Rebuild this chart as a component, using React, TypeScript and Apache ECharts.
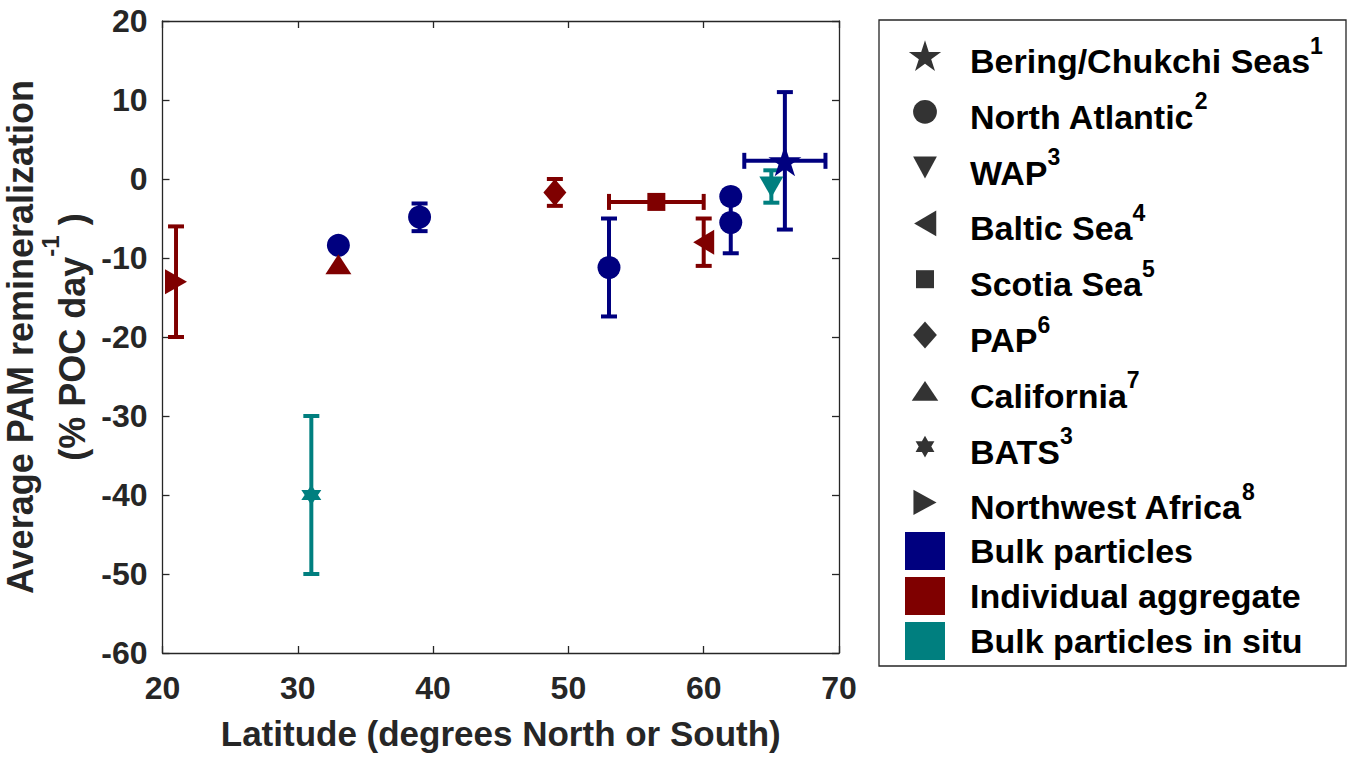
import React, { useEffect, useRef } from "react";
import * as echarts from "echarts";

// ---------- data ----------
const sites = [
  "Bering/Chukchi Seas",
  "North Atlantic",
  "WAP",
  "Baltic Sea",
  "Scotia Sea",
  "PAP",
  "California",
  "BATS",
  "Northwest Africa",
];
const siteRefs = ["1", "2", "3", "4", "5", "6", "7", "3", "8"];
const groups = ["Bulk particles", "Individual aggregate", "Bulk particles in situ"];

const pointLat = [21, 33, 33, 39, 31, 49, 53, 56.5, 60, 62, 62, 65, 66];
const pointValue = [-13, -10.8, -8.4, -4.8, -40, -1.7, -11.2, -2.9, -8, -2.2, -5.5, -1, 2.3];
const pointSite = [8, 6, 1, 1, 7, 5, 1, 4, 3, 1, 1, 2, 0];
const pointGroup = [1, 1, 0, 0, 2, 1, 0, 1, 1, 0, 0, 2, 0];
const yErrLow = [-20, null, null, -6.6, -50, -3.4, -17.4, null, -11, null, -9.4, -3, -6.4];
const yErrHigh = [-6, null, null, -3.1, -30, 0, -5, null, -5, null, -1.6, 1.1, 11];
const xErrLow = [null, null, null, null, null, null, null, 53, null, null, null, null, 63];
const xErrHigh = [null, null, null, null, null, null, null, 60, null, null, null, null, 69];

const xMin = 20;
const xMax = 70;
const xStep = 10;
const yMin = -60;
const yMax = 20;
const yStep = 10;

const xTitle = "Latitude (degrees North or South)";
const yTitle1 = "Average PAM remineralization";
const yTitle2 = "(% POC day";
const yTitleSup = "-1";

// ---------- styles ----------
const groupColors = ["#00007f", "#7f0000", "#007f7f"];
const AXIS = "#262626";
const FONT = "'Liberation Sans', Arial, Helvetica, sans-serif";

const STAR = "path://M50 0 L61.23 34.55 L97.55 34.55 L68.17 55.9 L79.39 90.45 L50 69.1 L20.61 90.45 L31.83 55.9 L2.45 34.55 L38.77 34.55 Z";
const HEX = "path://M50 0 L64.43 25 L93.3 25 L78.87 50 L93.3 75 L64.43 75 L50 100 L35.57 75 L6.7 75 L21.13 50 L6.7 25 L35.57 25 Z";
const DOWN = "path://M0 0 L100 0 L50 100 Z";
const LEFT = "path://M0 50 L100 0 L100 100 Z";
const RIGHT = "path://M0 0 L100 50 L0 100 Z";

const siteSymbol = [STAR, "circle", DOWN, LEFT, "rect", "diamond", "triangle", HEX, RIGHT];
const siteSize: any[] = [[33, 31], 23, [24, 21], [21, 25], 18, [23, 27], [26, 20], [20, 20], [22, 25]];

const PAD = "M0 0 L0 0 M100 100 L100 100 ";
const legendIcons = [
  "path://" + PAD + "M50 4 L61.2 38.5 L97.5 38.5 L68.2 59.9 L79.4 94.4 L50 73.1 L20.6 94.4 L31.8 59.9 L2.5 38.5 L38.8 38.5 Z",
  "path://" + PAD + "M15 50 A35 35 0 1 1 85 50 A35 35 0 1 1 15 50 Z",
  "path://" + PAD + "M15 17 L85 17 L50 82 Z",
  "path://" + PAD + "M18 50 L83 12 L83 88 Z",
  "path://" + PAD + "M23.5 23.5 L76.5 23.5 L76.5 76.5 L23.5 76.5 Z",
  "path://" + PAD + "M50 10 L85 50 L50 90 L15 50 Z",
  "path://" + PAD + "M50 21 L89 79 L11 79 Z",
  "path://" + PAD + "M50 18 L59.2 34 L77.7 34 L68.5 50 L77.7 66 L59.2 66 L50 82 L40.8 66 L22.3 66 L31.5 50 L22.3 34 L40.8 34 Z",
  "path://" + PAD + "M16 13 L84 50 L16 87 Z",
];

const GRID = { left: 162.5, right: 511, top: 21, bottom: 106 };

export default function App() {
  const ref = useRef<HTMLDivElement>(null);

  useEffect(() => {
    document.body.style.margin = "0";
    if (!ref.current) return;
    const chart = echarts.init(ref.current, null, { renderer: "svg" });

    const richLegend = {
      n: { fontSize: 34, fontWeight: "bold", fontFamily: FONT, color: "#000", lineHeight: 44, verticalAlign: "bottom" },
      s: { fontSize: 23, fontWeight: "bold", fontFamily: FONT, color: "#000", lineHeight: 23, verticalAlign: "top" },
      sp1: { width: 23, fontSize: 10, lineHeight: 10 },
    };
    const richLegend2 = {
      n: { fontSize: 34, fontWeight: "bold", fontFamily: FONT, color: "#000", lineHeight: 38 },
      sp2: { width: 20, fontSize: 10, lineHeight: 10 },
    };

    const errorData = pointLat.map((x, i) => [x, pointValue[i]]);

    const markerSeries = groups.map((g, gi) => ({
      type: "scatter",
      name: g,
      color: groupColors[gi],
      z: 3,
      itemStyle: { color: groupColors[gi], opacity: 1 },
      emphasis: { disabled: true },
      data: pointLat
        .map((_, i) => i)
        .filter((i) => pointGroup[i] === gi)
        .map((i) => ({
          value: [pointLat[i], pointValue[i]],
          symbol: siteSymbol[pointSite[i]],
          symbolSize: siteSize[pointSite[i]],
        })),
    }));
    // draw individual aggregates last
    const orderedMarkers = [markerSeries[0], markerSeries[2], markerSeries[1]];

    const siteSeries = sites.map((s) => ({
      type: "scatter",
      name: s,
      color: "#000",
      itemStyle: { color: "#000" },
      data: [],
    }));

    const axisCommon = {
      axisLine: { show: true, onZero: false, lineStyle: { color: AXIS, width: 1.3 } },
      axisTick: { show: true, inside: true, length: 7, lineStyle: { color: AXIS, width: 1.3 } },
      splitLine: { show: false },
    };

    const option: any = {
      animation: false,
      backgroundColor: "#fff",
      grid: { ...GRID, containLabel: false, outerBoundsMode: "none" },
      xAxis: [
        {
          type: "value",
          min: xMin,
          max: xMax,
          interval: xStep,
          position: "bottom",
          ...axisCommon,
          axisLabel: { color: AXIS, fontSize: 32, fontWeight: "bold", fontFamily: FONT, margin: 19 },
          name: xTitle,
          nameLocation: "middle",
          nameGap: 63,
          nameTextStyle: { color: AXIS, fontSize: 35, fontWeight: "bold", fontFamily: FONT },
        },
        {
          type: "value",
          min: xMin,
          max: xMax,
          interval: xStep,
          position: "top",
          ...axisCommon,
          axisLabel: { show: false },
        },
      ],
      yAxis: [
        {
          type: "value",
          min: yMin,
          max: yMax,
          interval: yStep,
          position: "left",
          ...axisCommon,
          axisLabel: { color: AXIS, fontSize: 32, fontWeight: "bold", fontFamily: FONT, margin: 15 },
          name: `{n1|${yTitle1}}\n{n2|${yTitle2}}{s|${yTitleSup}}{n2| )}`,
          nameLocation: "middle",
          nameRotate: 90,
          nameGap: 71.5,
          nameTextStyle: {
            align: "center",
            rich: {
              n1: { fontSize: 36, fontWeight: "bold", fontFamily: FONT, color: AXIS, lineHeight: 36 },
              n2: { fontSize: 36, fontWeight: "bold", fontFamily: FONT, color: AXIS, lineHeight: 52, verticalAlign: "bottom" },
              s: { fontSize: 24, fontWeight: "bold", fontFamily: FONT, color: AXIS, lineHeight: 24, verticalAlign: "top" },
            },
          },
        },
        {
          type: "value",
          min: yMin,
          max: yMax,
          interval: yStep,
          position: "right",
          ...axisCommon,
          axisLabel: { show: false },
        },
      ],
      legend: [
        {
          orient: "vertical",
          left: 908,
          top: 34,
          padding: 0,
          itemGap: 11.8,
          itemWidth: 34,
          itemHeight: 34,
          selectedMode: false,
          data: sites.map((s, i) => ({ name: s, icon: legendIcons[i] })),
          formatter: (name: string) => `{sp1| }{n|${name}}{s|${siteRefs[sites.indexOf(name)]}}`,
          textStyle: { rich: richLegend },
        },
        {
          orient: "vertical",
          left: 905,
          top: 532,
          padding: 0,
          itemGap: 7,
          itemWidth: 40,
          itemHeight: 38,
          selectedMode: false,
          data: groups.map((g) => ({ name: g, icon: "rect" })),
          formatter: (name: string) => `{sp2| }{n|${name}}`,
          textStyle: { rich: richLegend2 },
        },
      ],
      graphic: [
        {
          type: "rect",
          z: -10,
          shape: { x: 879, y: 20, width: 467, height: 646 },
          style: { fill: "none", stroke: AXIS, lineWidth: 1.3 },
          silent: true,
        },
      ],
      series: [
        {
          type: "custom",
          name: "errorbars",
          z: 2,
          silent: true,
          encode: { x: 0, y: 1 },
          data: errorData,
          renderItem: (params: any, api: any) => {
            const i = params.dataIndex;
            const style = { stroke: groupColors[pointGroup[i]], lineWidth: 4, fill: "none" };
            const cap = 8;
            const children: any[] = [];
            const lo = yErrLow[i];
            const hi = yErrHigh[i];
            if (lo != null && hi != null) {
              const a = api.coord([pointLat[i], lo]);
              const b = api.coord([pointLat[i], hi]);
              children.push({ type: "line", shape: { x1: a[0], y1: a[1], x2: b[0], y2: b[1] }, style });
              children.push({ type: "line", shape: { x1: a[0] - cap, y1: a[1], x2: a[0] + cap, y2: a[1] }, style });
              children.push({ type: "line", shape: { x1: b[0] - cap, y1: b[1], x2: b[0] + cap, y2: b[1] }, style });
            }
            const xl = xErrLow[i];
            const xh = xErrHigh[i];
            if (xl != null && xh != null) {
              const a = api.coord([xl, pointValue[i]]);
              const b = api.coord([xh, pointValue[i]]);
              children.push({ type: "line", shape: { x1: a[0], y1: a[1], x2: b[0], y2: b[1] }, style });
              children.push({ type: "line", shape: { x1: a[0], y1: a[1] - cap, x2: a[0], y2: a[1] + cap }, style });
              children.push({ type: "line", shape: { x1: b[0], y1: b[1] - cap, x2: b[0], y2: b[1] + cap }, style });
            }
            return { type: "group", children };
          },
        },
        ...orderedMarkers,
        ...siteSeries,
      ],
    };

    chart.setOption(option);
    return () => chart.dispose();
  }, []);

  return <div ref={ref} style={{ width: 1350, height: 759 }} />;
}
